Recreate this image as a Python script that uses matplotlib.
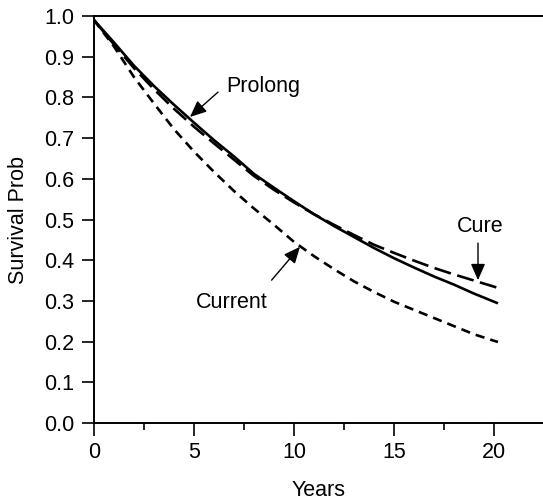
import matplotlib
matplotlib.use("Agg")
import matplotlib.pyplot as plt
from matplotlib.ticker import MultipleLocator

plt.rcParams["font.family"] = ["Liberation Sans", "DejaVu Sans"]

# survival probability by year for the three strategies
years = [0, 1, 2, 3, 4, 5, 6, 7, 8, 9, 10, 11, 12, 13, 14, 15, 16, 17, 18, 19, 20, 20.2]
prolong = [0.99, 0.935, 0.878, 0.828, 0.782, 0.738, 0.695, 0.655, 0.612, 0.578, 0.545,
           0.513, 0.484, 0.457, 0.430, 0.405, 0.382, 0.360, 0.340, 0.318, 0.298, 0.294]
cure = [0.99, 0.930, 0.872, 0.820, 0.772, 0.728, 0.687, 0.647, 0.607, 0.573, 0.542,
        0.513, 0.487, 0.462, 0.438, 0.418, 0.399, 0.381, 0.365, 0.350, 0.335, 0.332]
current = [0.99, 0.925, 0.850, 0.785, 0.722, 0.667, 0.617, 0.570, 0.527, 0.487, 0.445,
           0.410, 0.378, 0.348, 0.322, 0.298, 0.278, 0.258, 0.238, 0.218, 0.202, 0.199]

FS = 15.5

fig = plt.figure(figsize=(5.43, 5.01), dpi=100)
ax = fig.add_axes([0.1731, 0.1557, 0.8269, 0.8123])

ax.plot(years, prolong, color="black", lw=1.9, solid_capstyle="butt")
ax.plot(years, cure, color="black", lw=1.9, dashes=(6.5, 2.5))
ax.plot(years, current, color="black", lw=1.9, dashes=(3.5, 2.3))

arrow = dict(arrowstyle="-|>,head_length=0.5,head_width=0.22", color="black", lw=1.0,
             mutation_scale=20, shrinkA=0, shrinkB=0)
ax.text(6.6, 0.828, "Prolong", fontsize=FS, ha="left", va="center")
ax.annotate("", xy=(4.8, 0.752), xytext=(6.2, 0.813), arrowprops=arrow)
ax.text(19.3, 0.482, "Cure", fontsize=FS, ha="center", va="center")
ax.annotate("", xy=(19.2, 0.351), xytext=(19.2, 0.442), arrowprops=arrow)
ax.text(6.9, 0.297, "Current", fontsize=FS, ha="center", va="center")
ax.annotate("", xy=(10.3, 0.433), xytext=(8.88, 0.351), arrowprops=arrow)

ax.set_xlim(0, 22.45)
ax.set_ylim(0, 1.0)
ax.xaxis.set_minor_locator(MultipleLocator(2.5))
ax.set_xticks([0, 5, 10, 15, 20])
ax.set_yticks([i / 10 for i in range(11)])
ax.set_yticklabels([f"{i / 10:.1f}" for i in range(11)])

ax.tick_params(axis="both", which="major", length=9, width=1.2, labelsize=FS, pad=5, direction="out")
ax.tick_params(axis="x", which="minor", length=5, width=1.2)
ax.spines["right"].set_visible(False)
for s in ["left", "top", "bottom"]:
    ax.spines[s].set_linewidth(1.4)

ax.set_xlabel("Years", fontsize=FS, labelpad=12)
ax.set_ylabel("Survival Prob", fontsize=FS, labelpad=11)

fig.savefig("out.png", dpi=100)
